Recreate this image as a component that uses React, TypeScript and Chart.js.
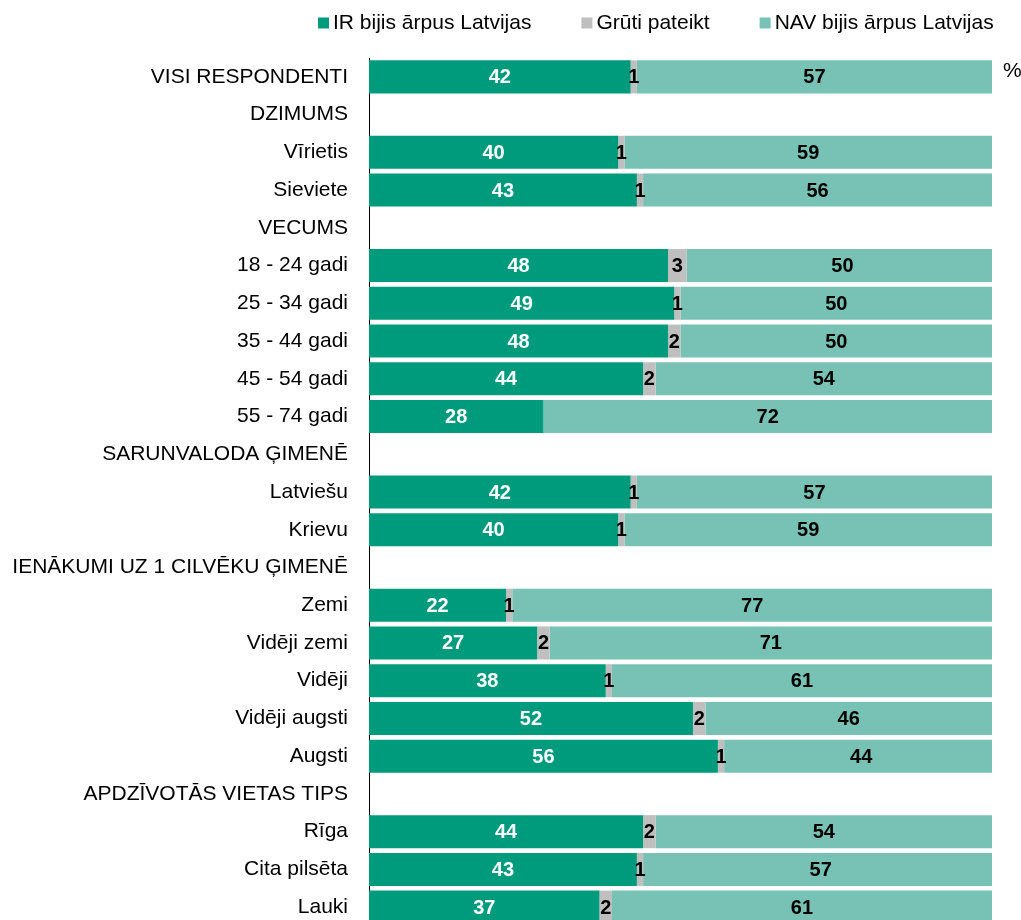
import React, { useEffect, useRef } from "react";
import { Chart, registerables } from "chart.js";

Chart.register(...registerables);

const categories = [
  "VISI RESPONDENTI",
  "DZIMUMS",
  "Vīrietis",
  "Sieviete",
  "VECUMS",
  "18 - 24 gadi",
  "25 - 34 gadi",
  "35 - 44 gadi",
  "45 - 54 gadi",
  "55 - 74 gadi",
  "SARUNVALODA ĢIMENĒ",
  "Latviešu",
  "Krievu",
  "IENĀKUMI UZ 1 CILVĒKU ĢIMENĒ",
  "Zemi",
  "Vidēji zemi",
  "Vidēji",
  "Vidēji augsti",
  "Augsti",
  "APDZĪVOTĀS VIETAS TIPS",
  "Rīga",
  "Cita pilsēta",
  "Lauki",
];

const irValues = [42, null, 40, 43, null, 48, 49, 48, 44, 28, null, 42, 40, null, 22, 27, 38, 52, 56, null, 44, 43, 37];
const grutiValues = [1, null, 1, 1, null, 3, 1, 2, 2, 0, null, 1, 1, null, 1, 2, 1, 2, 1, null, 2, 1, 2];
const navValues = [57, null, 59, 56, null, 50, 50, 50, 54, 72, null, 57, 59, null, 77, 71, 61, 46, 44, null, 54, 57, 61];

const seriesNames = ["IR bijis ārpus Latvijas", "Grūti pateikt", "NAV bijis ārpus Latvijas"];
const seriesColors = ["#009B7D", "#BFBFBF", "#77C2B4"];
const labelColors = ["#FFFFFF", "#000000", "#000000"];
const unitLabel = "%";

const FONT = "'Liberation Sans', Arial, sans-serif";

const customPlugin = {
  id: "customDraw",
  afterDatasetsDraw(chart: any) {
    const ctx = chart.ctx;
    ctx.save();
    // data labels
    ctx.font = `bold 20px ${FONT}`;
    ctx.textAlign = "center";
    ctx.textBaseline = "middle";
    chart.data.datasets.forEach((ds: any, di: number) => {
      const meta = chart.getDatasetMeta(di);
      meta.data.forEach((el: any, i: number) => {
        const v = ds.data[i];
        if (v === null || v === undefined || v === 0) return;
        ctx.fillStyle = labelColors[di];
        ctx.fillText(String(v), (el.x + el.base) / 2, el.y + 1);
      });
    });
    // legend
    ctx.font = `21px ${FONT}`;
    ctx.textAlign = "left";
    let x = 318;
    const ly = 23;
    seriesNames.forEach((name, i) => {
      ctx.fillStyle = seriesColors[i];
      ctx.fillRect(x, ly - 5.5, 11, 11);
      ctx.fillStyle = "#000";
      ctx.fillText(name, x + 15, ly);
      x += 15 + ctx.measureText(name).width + 50;
    });
    // unit label
    const first = chart.getDatasetMeta(0).data[0];
    ctx.fillStyle = "#000";
    ctx.fillText(unitLabel, chart.chartArea.right + 11, first.y - 6);
    ctx.restore();
  },
};

export default function App() {
  const ref = useRef<HTMLCanvasElement | null>(null);
  useEffect(() => {
    if (!ref.current) return;
    const mk = (label: string, data: any[], i: number) => ({
      label,
      data,
      backgroundColor: seriesColors[i],
      borderWidth: 0,
      barPercentage: 0.875,
      categoryPercentage: 1,
      clip: 0,
    });
    const chart = new Chart(ref.current, {
      type: "bar",
      data: {
        labels: categories,
        datasets: [
          mk(seriesNames[0], irValues, 0),
          mk(seriesNames[1], grutiValues, 1),
          mk(seriesNames[2], navValues, 2),
        ],
      },
      options: {
        indexAxis: "y",
        responsive: false,
        animation: false,
        devicePixelRatio: 1,
        layout: { padding: { top: 58, right: 29, left: 0, bottom: 0 } },
        plugins: {
          legend: { display: false },
          tooltip: { enabled: false },
        },
        scales: {
          x: { stacked: true, min: 0, max: 100, display: false },
          y: {
            stacked: true,
            grid: { display: false, drawTicks: false },
            border: { display: true, color: "#000", width: 1 },
            ticks: {
              autoSkip: false,
              padding: 21,
              color: "#000",
              font: { family: FONT, size: 21 },
            },
            afterFit: (s: any) => {
              s.width = 369;
              s.paddingTop = 0;
              s.paddingBottom = 0;
            },
          },
        },
      } as any,
      plugins: [customPlugin],
    });
    return () => chart.destroy();
  }, []);
  return (
    <div
      style={{
        position: "fixed",
        left: 0,
        top: 0,
        width: 1021,
        height: 920,
        overflow: "hidden",
        background: "#fff",
      }}
    >
      <canvas ref={ref} width={1021} height={926} style={{ display: "block", width: 1021, height: 926 }} />
    </div>
  );
}
